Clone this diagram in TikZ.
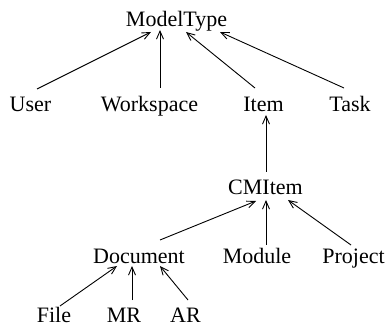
\documentclass[tikz,border=0pt]{standalone}
\usepackage{fontspec}
\setmainfont{Liberation Serif}
\usetikzlibrary{arrows.meta}
\begin{document}
\begin{tikzpicture}[x=1pt,y=-1pt,
  cls/.style={inner sep=0pt,anchor=base,font=\fontsize{22}{24}\selectfont},
  isa/.style={-{Straight Barb[length=8pt,width=7pt]},line width=0.9pt}]
\useasboundingbox (0,0) rectangle (386,326);
% class names
\node[cls] (mt) at (176.5,27) {ModelType};
\node[cls] (user) at (30.5,112) {User};
\node[cls] (ws) at (149.5,112) {Workspace};
\node[cls] (item) at (263.5,112) {Item};
\node[cls] (task) at (350,112) {Task};
\node[cls] (cmitem) at (265.5,195) {CMItem};
\node[cls] (doc) at (139,263) {Document};
\node[cls] (module) at (257,263) {Module};
\node[cls] (project) at (353.5,263) {Project};
\node[cls] (file) at (54,322) {File};
\node[cls] (mr) at (124,322) {MR};
\node[cls] (ar) at (185.5,322) {AR};
% inheritance arrows
\draw[isa] ([shift={(6.5,-23)}]user.base) -- ([shift={(-25.5,5)}]mt.base);
\draw[isa] ([shift={(10.5,-24)}]ws.base) -- ([shift={(-16.5,3)}]mt.base);
\draw[isa] ([shift={(-8.5,-24)}]item.base) -- ([shift={(9.5,5)}]mt.base);
\draw[isa] ([shift={(-6,-24)}]task.base) -- ([shift={(43.5,5)}]mt.base);
\draw[isa] ([shift={(0.5,-23)}]cmitem.base) -- ([shift={(2.5,3)}]item.base);
\draw[isa] ([shift={(21,-23)}]doc.base) -- ([shift={(-9.5,6)}]cmitem.base);
\draw[isa] ([shift={(9,-18)}]module.base) -- ([shift={(0.5,5)}]cmitem.base);
\draw[isa] ([shift={(-2.5,-18)}]project.base) -- ([shift={(22.5,5)}]cmitem.base);
\draw[isa] ([shift={(6,-16)}]file.base) -- ([shift={(-22,3)}]doc.base);
\draw[isa] ([shift={(8,-22)}]mr.base) -- ([shift={(-7,3)}]doc.base);
\draw[isa] ([shift={(2.5,-22)}]ar.base) -- ([shift={(21,3)}]doc.base);
\end{tikzpicture}
\end{document}
